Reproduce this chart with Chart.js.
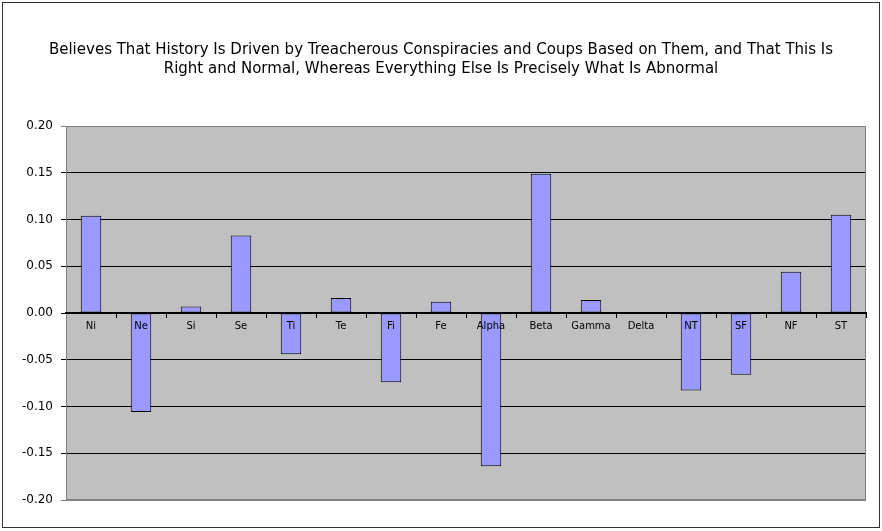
<!DOCTYPE html>
<html>
<head>
<meta charset="utf-8">
<script src="https://cdn.jsdelivr.net/npm/chart.js@4"></script>
<style>
  html, body { margin: 0; padding: 0; background: #fff; }
  #wrap { width: 882px; height: 531px; position: relative; }
</style>
</head>
<body>
<div id="wrap"><canvas id="myChart"></canvas></div>
<script>
const categories = ['Ni', 'Ne', 'Si', 'Se', 'Ti', 'Te', 'Fi', 'Fe', 'Alpha', 'Beta', 'Gamma', 'Delta', 'NT', 'SF', 'NF', 'ST']
const values = [0.104, -0.106, 0.007, 0.083, -0.044, 0.016, -0.074, 0.012, -0.164, 0.149, 0.014, 0, -0.083, -0.066, 0.044, 0.105]
const yTicks = [-0.20, -0.15, -0.10, -0.05, 0.00, 0.05, 0.10, 0.15, 0.20]
const titleLines = [
    'Believes That History Is Driven by Treacherous Conspiracies and Coups Based on Them, and That This Is',
    'Right and Normal, Whereas Everything Else Is Precisely What Is Abnormal'
]

// grey plot area, its border and the outer chart frame
const frame = {
    id: 'frame',
    beforeDraw(chart) {
        const { ctx, chartArea: a } = chart
        ctx.save()
        ctx.fillStyle = '#c0c0c0'
        ctx.fillRect(a.left, a.top, a.right - a.left, a.bottom - a.top)
        ctx.restore()
    },
    beforeDatasetsDraw(chart) {
        const { ctx, chartArea: a } = chart
        ctx.save()
        ctx.strokeStyle = '#808080'
        ctx.lineWidth = 1
        ctx.strokeRect(Math.round(a.left) + 0.5, Math.round(a.top) + 0.5, Math.round(a.right - a.left) - 1, Math.round(a.bottom - a.top) - 1)
        ctx.restore()
    },
    afterDraw(chart) {
        const ctx = chart.ctx
        ctx.save()
        ctx.strokeStyle = '#333'
        ctx.lineWidth = 1
        ctx.strokeRect(2.5, 2.5, 877, 525)
        ctx.restore()
    }
}

const ctx = document.getElementById('myChart')
const myChart = new Chart(ctx, {
    type: 'bar',
    data: {
        labels: categories,
        datasets: [
            {
                data: values,
                backgroundColor: '#9999ff',
                borderColor: '#000',
                borderWidth: 1,
                borderSkipped: false,
                categoryPercentage: 1,
                barPercentage: 0.41
            }
        ]
    },
    options: {
        responsive: true,
        maintainAspectRatio: false,
        animation: false,
        layout: {
            padding: { left: 16, right: 16, top: 0, bottom: 31 }
        },
        plugins: {
            legend: { display: false },
            tooltip: { enabled: false },
            title: {
                display: true,
                text: titleLines,
                color: '#000',
                font: { family: 'DejaVu Sans', size: 15, weight: 'normal', lineHeight: 1.3 },
                padding: { top: 40, bottom: 47 }
            }
        },
        scales: {
            x: {
                position: { y: 0 },
                offset: true,
                grid: {
                    offset: true,
                    drawOnChartArea: false,
                    drawTicks: true,
                    tickLength: 4,
                    color: '#000'
                },
                border: { color: '#000', width: 2, z: 1 },
                ticks: {
                    z: 1,
                    color: '#000',
                    padding: 3,
                    maxRotation: 0,
                    autoSkip: false,
                    font: { family: 'DejaVu Sans', size: 10 }
                }
            },
            y: {
                min: -0.2,
                max: 0.2,
                afterBuildTicks(scale) {
                    scale.ticks = yTicks.map(v => ({ value: v }))
                },
                afterFit(scale) {
                    scale.width = 50
                },
                grid: {
                    color: c => (c.index === 0 || c.index === yTicks.length - 1) ? '#808080' : '#000',
                    lineWidth: 1,
                    tickLength: 5
                },
                border: { display: false },
                ticks: {
                    color: '#000',
                    padding: 8,
                    font: { family: 'DejaVu Sans', size: 12 },
                    callback: v => v.toFixed(2)
                }
            }
        }
    },
    plugins: [frame]
})
</script>
</body>
</html>
